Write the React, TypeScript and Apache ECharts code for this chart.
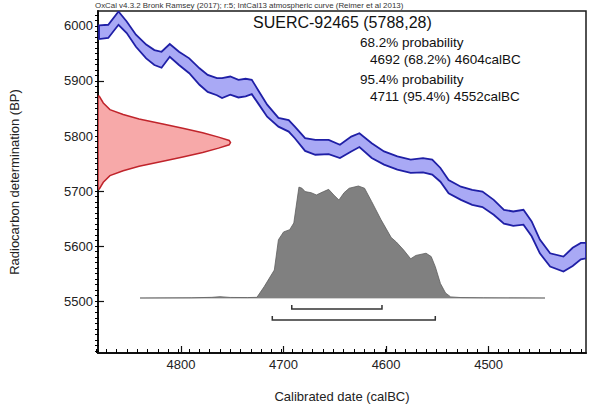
import React, { useEffect, useRef } from "react";
import * as echarts from "echarts";

// Calibration curve (IntCal13) band edges
const calYears = [4880, 4871, 4861, 4853, 4844, 4834, 4826, 4819, 4811, 4802, 4792, 4782, 4774, 4765, 4760, 4752, 4744, 4737, 4731, 4724, 4716, 4705, 4695, 4689, 4679, 4669, 4656, 4645, 4634, 4626, 4614, 4602, 4589, 4576, 4564, 4555, 4547, 4539, 4527, 4516, 4506, 4495, 4485, 4476, 4466, 4458, 4450, 4440, 4427, 4418, 4410, 4405];
const calUpper = [6001, 6002, 6026, 6008, 5984, 5966, 5956, 5953, 5967, 5953, 5941, 5923, 5911, 5905, 5905, 5908, 5902, 5904, 5902, 5881, 5857, 5833, 5829, 5817, 5796, 5793, 5793, 5784, 5799, 5805, 5787, 5772, 5763, 5757, 5760, 5757, 5742, 5720, 5708, 5702, 5699, 5684, 5666, 5663, 5666, 5645, 5612, 5587, 5581, 5597, 5606, 5606];
const calLower = [5976, 5978, 6002, 5987, 5962, 5941, 5929, 5924, 5944, 5929, 5914, 5893, 5880, 5874, 5869, 5875, 5870, 5872, 5876, 5857, 5835, 5817, 5808, 5796, 5773, 5766, 5767, 5760, 5772, 5780, 5760, 5748, 5739, 5733, 5734, 5730, 5717, 5696, 5684, 5675, 5671, 5657, 5641, 5637, 5639, 5618, 5587, 5563, 5554, 5564, 5576, 5578];

// Radiocarbon measurement distribution (5788 ± 28 BP), relative density
const redBP = [5872, 5860, 5848, 5839, 5831, 5822, 5814, 5806, 5798, 5792, 5788, 5784, 5778, 5770, 5762, 5754, 5745, 5737, 5728, 5716, 5704];
const redP = [0.01, 0.04, 0.09, 0.19, 0.31, 0.49, 0.64, 0.79, 0.91, 0.99, 1, 0.99, 0.91, 0.79, 0.64, 0.49, 0.31, 0.19, 0.09, 0.04, 0.01];

// Calibrated posterior distribution, relative density
const postYears = [4840, 4790, 4770, 4762, 4752, 4735, 4726, 4719, 4709, 4705, 4700, 4694, 4690, 4685, 4682, 4679, 4673, 4668, 4661, 4656, 4651, 4646, 4641, 4636, 4627, 4621, 4614, 4605, 4595, 4590, 4583, 4576, 4571, 4561, 4556, 4552, 4547, 4542, 4537, 4527, 4505, 4445];
const postProb = [0, 0.002, 0.006, 0.012, 0.005, 0.004, 0.006, 0.1, 0.25, 0.52, 0.59, 0.61, 0.67, 0.99, 0.98, 0.95, 0.94, 0.92, 0.95, 0.97, 0.92, 0.875, 0.94, 0.98, 1.0, 0.98, 0.86, 0.7, 0.54, 0.5, 0.43, 0.35, 0.38, 0.4, 0.37, 0.28, 0.13, 0.045, 0.01, 0.004, 0.002, 0];
const baselineYears = [4840, 4445];

// Highest posterior density ranges: 68.2% and 95.4%
const hpdRanges = [
  [4692, 4604],
  [4711, 4552],
];

// Axis ticks
const xMajor = [4500, 4600, 4700, 4800];
const yMajor = [5500, 5600, 5700, 5800, 5900, 6000];
const xMinor: number[] = [];
for (let v = 4410; v <= 4880; v += 10) xMinor.push(v);
const yMinor: number[] = [];
for (let v = 5410; v <= 6020; v += 10) yMinor.push(v);

const headerText =
  "OxCal v4.3.2 Bronk Ramsey (2017); r:5; IntCal13 atmospheric curve (Reimer et al 2013)";
const sampleTitle = "SUERC-92465 (5788,28)";
const summaryLines = [
  "68.2% probability",
  "4692 (68.2%) 4604calBC",
  "95.4% probability",
  "4711 (95.4%) 4552calBC",
];

const FONT = '"Liberation Sans", Arial, Helvetica, sans-serif';
const X_MIN = 4405;
const X_MAX = 4881;
const Y_MIN = 5406;
const Y_MAX = 6027;

export default function App() {
  const ref = useRef<HTMLDivElement>(null);

  useEffect(() => {
    if (!ref.current) return;
    const chart = echarts.init(ref.current, null, { renderer: "svg" });
    const bracketOffsets = [11, 22];
    const gridRect = { left: 95, top: 11, right: 14, bottom: 58 };

    const option: any = {
      animation: false,
      backgroundColor: "#ffffff",
      textStyle: { fontFamily: FONT },
      grid: [
        {
          ...gridRect,
          show: true,
          borderColor: "#1a1a1a",
          borderWidth: 1.5,
          backgroundColor: "transparent",
        },
        { ...gridRect, show: false },
      ],
      xAxis: [
        {
          type: "value",
          gridIndex: 0,
          min: X_MIN,
          max: X_MAX,
          inverse: true,
          position: "bottom",
          splitLine: { show: false },
          axisLine: { show: true, onZero: false, lineStyle: { color: "#111", width: 2 } },
          axisTick: { show: true, inside: true, length: 7, customValues: xMajor, lineStyle: { color: "#111", width: 1.2 } },
          axisLabel: {
            customValues: xMajor,
            formatter: (v: number) => String(v),
            fontSize: 13,
            color: "#222",
            margin: 5,
            fontFamily: FONT,
          },
          name: "Calibrated date (calBC)",
          nameLocation: "middle",
          nameGap: 37,
          nameTextStyle: { fontSize: 13, color: "#222", fontFamily: FONT },
        },
        {
          type: "value",
          gridIndex: 0,
          min: 0,
          max: 3.683,
          show: false,
          position: "top",
          splitLine: { show: false },
        },
        {
          type: "value",
          gridIndex: 1,
          min: X_MIN,
          max: X_MAX,
          inverse: true,
          position: "bottom",
          splitLine: { show: false },
          axisLine: { show: false, onZero: false },
          axisTick: { show: true, inside: true, length: 4, customValues: xMinor, lineStyle: { color: "#000", width: 1 } },
          axisLabel: { show: true, customValues: xMinor, formatter: () => "" },
        },
      ],
      yAxis: [
        {
          type: "value",
          gridIndex: 0,
          min: Y_MIN,
          max: Y_MAX,
          position: "left",
          splitLine: { show: false },
          axisLine: { show: true, onZero: false, lineStyle: { color: "#111", width: 2 } },
          axisTick: { show: true, inside: true, length: 6, customValues: yMajor, lineStyle: { color: "#111", width: 1.2 } },
          axisLabel: {
            customValues: yMajor,
            formatter: (v: number) => String(v),
            fontSize: 13,
            color: "#222",
            margin: 5,
            fontFamily: FONT,
          },
          name: "Radiocarbon determination (BP)",
          nameLocation: "middle",
          nameGap: 77,
          nameRotate: 90,
          nameTextStyle: { fontSize: 13, color: "#222", fontFamily: FONT },
        },
        {
          type: "value",
          gridIndex: 0,
          min: -0.491,
          max: 2.5625,
          show: false,
          position: "right",
          splitLine: { show: false },
        },
        {
          type: "value",
          gridIndex: 1,
          min: Y_MIN,
          max: Y_MAX,
          position: "left",
          splitLine: { show: false },
          axisLine: { show: false, onZero: false },
          axisTick: { show: true, inside: true, length: 4, customValues: yMinor, lineStyle: { color: "#000", width: 1 } },
          axisLabel: { show: true, customValues: yMinor, formatter: () => "" },
        },
      ],
      series: [
        {
          type: "line",
          name: "minor-ticks-holder",
          xAxisIndex: 2,
          yAxisIndex: 2,
          data: [],
          silent: true,
        },
        {
          type: "custom",
          name: "IntCal13",
          xAxisIndex: 0,
          yAxisIndex: 0,
          clip: true,
          z: 2,
          data: [[4600, 5700]],
          renderItem: (_params: any, api: any) => {
            const pts: number[][] = [];
            for (let i = 0; i < calYears.length; i++) pts.push(api.coord([calYears[i], calUpper[i]]));
            for (let i = calYears.length - 1; i >= 0; i--) pts.push(api.coord([calYears[i], calLower[i]]));
            return {
              type: "polygon",
              shape: { points: pts },
              style: { fill: "#a9a9f5", stroke: "#1f1fa6", lineWidth: 1.8 },
            };
          },
        },
        {
          type: "custom",
          name: "Measurement",
          xAxisIndex: 1,
          yAxisIndex: 0,
          clip: true,
          z: 3,
          data: [[0.5, 5788]],
          renderItem: (_params: any, api: any) => {
            const pts: number[][] = [];
            pts.push(api.coord([0, redBP[0]]));
            for (let i = 0; i < redBP.length; i++) pts.push(api.coord([redP[i], redBP[i]]));
            pts.push(api.coord([0, redBP[redBP.length - 1]]));
            return {
              type: "polygon",
              shape: { points: pts },
              style: { fill: "#f7a9a9", stroke: "#c0242b", lineWidth: 1.5 },
            };
          },
        },
        {
          type: "line",
          name: "baseline",
          xAxisIndex: 0,
          yAxisIndex: 1,
          z: 3,
          symbol: "none",
          data: baselineYears.map((y) => [y, 0]),
          lineStyle: { color: "#c2c2c2", width: 1.5 },
        },
        {
          type: "line",
          name: "Posterior",
          xAxisIndex: 0,
          yAxisIndex: 1,
          z: 4,
          symbol: "none",
          data: postYears.map((y, i) => [y, postProb[i]]),
          lineStyle: { color: "#5e5e5e", width: 0.8 },
          areaStyle: { color: "#808080", opacity: 1 },
        },
        {
          type: "custom",
          name: "HPD ranges",
          xAxisIndex: 0,
          yAxisIndex: 1,
          z: 5,
          data: hpdRanges,
          renderItem: (params: any, api: any) => {
            const a = api.coord([api.value(0), 0]);
            const b = api.coord([api.value(1), 0]);
            const y = a[1] + bracketOffsets[params.dataIndex];
            return {
              type: "polyline",
              shape: { points: [[a[0], y - 4], [a[0], y], [b[0], y], [b[0], y - 4]] },
              style: { stroke: "#333", lineWidth: 1.5, fill: null },
            };
          },
        },
      ],
      graphic: [
        {
          type: "text",
          x: 95,
          y: 5,
          style: { text: headerText, fontSize: 7.9, fill: "#333", fontFamily: FONT, verticalAlign: "middle" },
        },
        {
          type: "text",
          x: 253,
          y: 22,
          style: { text: sampleTitle, fontSize: 16, fill: "#111", fontFamily: FONT, verticalAlign: "middle" },
        },
        {
          type: "text",
          x: 360,
          y: 42.5,
          style: { text: summaryLines[0], fontSize: 13.5, fill: "#111", fontFamily: FONT, verticalAlign: "middle" },
        },
        {
          type: "text",
          x: 370,
          y: 59,
          style: { text: summaryLines[1], fontSize: 13.5, fill: "#111", fontFamily: FONT, verticalAlign: "middle" },
        },
        {
          type: "text",
          x: 360,
          y: 79,
          style: { text: summaryLines[2], fontSize: 13.5, fill: "#111", fontFamily: FONT, verticalAlign: "middle" },
        },
        {
          type: "text",
          x: 370,
          y: 96.7,
          style: { text: summaryLines[3], fontSize: 13.5, fill: "#111", fontFamily: FONT, verticalAlign: "middle" },
        },
      ],
    };

    chart.setOption(option);
    return () => chart.dispose();
  }, []);

  return (
    <div
      ref={ref}
      style={{ position: "fixed", left: 0, top: 0, width: 600, height: 411, background: "#fff" }}
    />
  );
}
